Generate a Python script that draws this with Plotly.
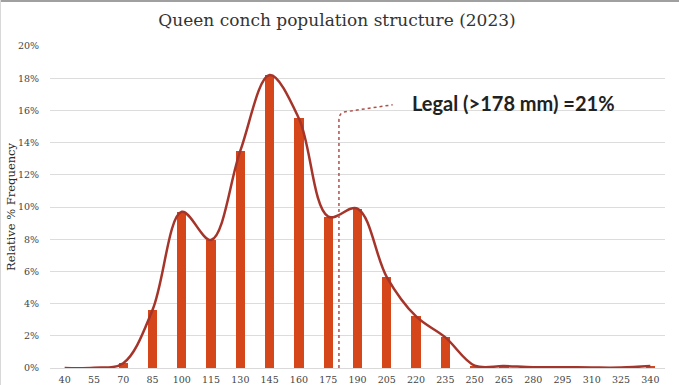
import plotly.graph_objects as go

sizes = [40, 55, 70, 85, 100, 115, 130, 145, 160, 175, 190, 205, 220, 235, 250, 265, 280, 295, 310, 325, 340]
freq = [0.0, 0.02, 0.3, 3.6, 9.7, 7.95, 13.5, 18.2, 15.5, 9.4, 9.9, 5.65, 3.2, 1.9, 0.15, 0.12, 0.05, 0.05, 0.03, 0.03, 0.12]
yticks = [0, 2, 4, 6, 8, 10, 12, 14, 16, 18, 20]
ytick_labels = [f"{v}%" for v in yticks]
legal_x = 180.5
legal_text = "Legal (>178 mm) =21%"

W, H = 679, 385
L, R, T, B = 50, 14, 46, 17

fig = go.Figure()
fig.add_trace(go.Bar(x=sizes, y=freq, width=4.8, marker=dict(color="#D5471A", line=dict(width=0)),
                     hoverinfo="skip"))
fig.add_trace(go.Scatter(x=sizes, y=freq, mode="lines", line=dict(color="#A5352A", width=2.5, shape="spline", smoothing=1.0),
                         hoverinfo="skip"))

fig.add_shape(type="path",
              path=f"M {legal_x},0 L {legal_x},15.4 Q {legal_x},15.8 183,15.9 L 208,16.35",
              xref="x", yref="y", line=dict(color="#B0504A", width=1.5, dash="dot"))

fig.add_annotation(x=270, y=16.46, xref="x", yref="y", text=legal_text, showarrow=False,
                   font=dict(family="Lato", size=20, color="#222222", weight="bold"),
                   xanchor="center", yanchor="middle")

pw = W - L - R
ph = H - T - B
fig.add_annotation(x=(11 - L) / pw, y=(368 - 207) / ph, xref="paper", yref="paper",
                   text="Relative % Frequency", textangle=-90, showarrow=False,
                   font=dict(family="DejaVu Serif", size=11.5, color="#2a2a2a"),
                   xanchor="center", yanchor="middle")

fig.add_shape(type="line", xref="paper", yref="paper", x0=-L / pw, x1=(W - L) / pw,
              y0=(H - B - 1) / ph, y1=(H - B - 1) / ph,
              line=dict(color="#A0A0A0", width=2))
fig.add_shape(type="line", xref="paper", yref="paper", x0=(0.5 - L) / pw, x1=(0.5 - L) / pw, y0=-B / ph, y1=(H - B) / ph,
              line=dict(color="#D8D8D8", width=1))

fig.update_layout(
    width=W, height=H,
    margin=dict(l=L, r=R, t=T, b=B, autoexpand=False),
    paper_bgcolor="white", plot_bgcolor="white",
    showlegend=False,
    bargap=0,
    title=dict(text="Queen conch population structure (2023)", x=337 / W, xanchor="center",
               y=1 - 20 / H, yanchor="middle",
               font=dict(family="DejaVu Serif", size=17, color="#333333")),
    xaxis=dict(range=[32.5, 347.5], tickmode="array", tickvals=sizes, ticktext=[str(s) for s in sizes],
               showgrid=False, zeroline=False, showline=True, linecolor="#D9D9D9", linewidth=1,
               automargin=False,
               ticks="outside", ticklen=3, tickcolor="rgba(0,0,0,0)",
               tickfont=dict(family="DejaVu Serif", size=9.5, color="#444444")),
    yaxis=dict(range=[0, 20], tickmode="array", tickvals=yticks, ticktext=ytick_labels,
               showgrid=True, gridcolor="#DCDCDC", gridwidth=1, zeroline=False, showline=False,
               automargin=False,
               ticks="outside", ticklen=8, tickcolor="rgba(0,0,0,0)",
               tickfont=dict(family="DejaVu Serif", size=9.5, color="#444444")),
)

fig.write_html("out.html", config={"displayModeBar": False},
               post_script="document.body.style.margin='0';document.body.style.overflow='hidden';")
